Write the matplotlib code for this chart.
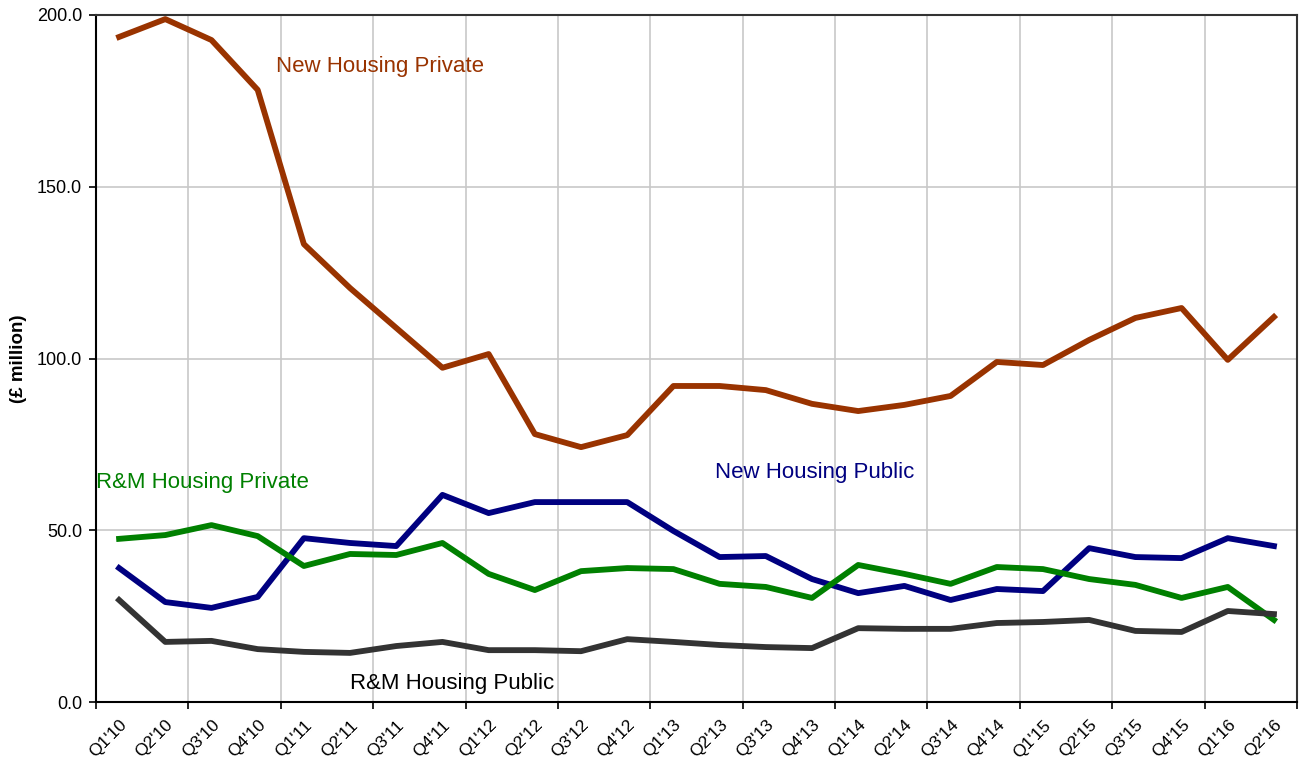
import numpy as np
import matplotlib.pyplot as plt

plt.rcParams['font.family'] = ['Liberation Sans', 'DejaVu Sans']

quarters = ["Q1'10", "Q2'10", "Q3'10", "Q4'10", "Q1'11", "Q2'11", "Q3'11", "Q4'11",
            "Q1'12", "Q2'12", "Q3'12", "Q4'12", "Q1'13", "Q2'13", "Q3'13", "Q4'13",
            "Q1'14", "Q2'14", "Q3'14", "Q4'14", "Q1'15", "Q2'15", "Q3'15", "Q4'15",
            "Q1'16", "Q2'16"]

new_private = [193.6, 198.8, 192.7, 178.2, 133.3, 120.5, 108.9, 97.3, 101.3, 78.0,
               74.2, 77.7, 92.0, 92.0, 90.8, 86.8, 84.7, 86.5, 89.1, 99.0,
               98.1, 105.4, 111.8, 114.7, 99.6, 112.1]
new_public = [39.0, 29.1, 27.4, 30.6, 47.7, 46.3, 45.4, 60.3, 55.0, 58.2,
              58.2, 58.2, 49.8, 42.2, 42.5, 35.8, 31.7, 33.8, 29.7, 32.9,
              32.3, 44.8, 42.2, 41.9, 47.7, 45.4]
rm_private = [47.5, 48.6, 51.5, 48.3, 39.6, 43.1, 42.8, 46.3, 37.3, 32.6,
              38.1, 39.0, 38.7, 34.4, 33.5, 30.3, 39.9, 37.3, 34.4, 39.3,
              38.7, 35.8, 34.1, 30.3, 33.5, 23.9]
rm_public = [29.7, 17.5, 17.8, 15.4, 14.6, 14.3, 16.3, 17.5, 15.1, 15.1,
             14.8, 18.3, 17.5, 16.6, 16.0, 15.7, 21.5, 21.3, 21.3, 23.0,
             23.3, 23.9, 20.7, 20.4, 26.5, 25.6]

x = np.arange(len(quarters))

fig = plt.figure(figsize=(12.99, 7.68), dpi=100)
ax = fig.add_axes([0.0739, 0.0859, 0.9246, 0.8946])

lw = 4.2
ax.plot(x, new_private, color='#993300', lw=lw, zorder=3)
ax.plot(x, new_public, color='#000080', lw=lw, zorder=3)
ax.plot(x, rm_private, color='#008000', lw=lw, zorder=3)
ax.plot(x, rm_public, color='#333333', lw=lw, zorder=3)

ax.text(3.4, 185, 'New Housing Private', color='#993300', fontsize=16, va='center')
ax.text(-0.5, 63.8, 'R&M Housing Private', color='#008000', fontsize=16, va='center')
ax.text(12.9, 66.7, 'New Housing Public', color='#000080', fontsize=16, va='center')
ax.text(5.0, 5.5, 'R&M Housing Public', color='black', fontsize=16, va='center')

ax.set_xlim(-0.5, len(quarters) - 0.5)
ax.set_ylim(0, 200)
ax.set_yticks([0, 50, 100, 150, 200])
ax.set_yticklabels(['%.1f' % v for v in [0, 50, 100, 150, 200]], fontsize=13)

ax.set_xticks(np.arange(-0.5, len(quarters), 2))
ax.set_xticklabels([])
ax.set_xticks(x, minor=True)
ax.set_xticklabels(quarters, minor=True, rotation=45, ha='right', rotation_mode='anchor', fontsize=12.5)
ax.tick_params(axis='x', which='minor', length=0, pad=11)
ax.tick_params(axis='x', which='major', length=5, width=1.2, direction='out')
ax.tick_params(axis='y', length=5, width=1.2, direction='out', pad=5)

ax.grid(True, which='major', color='#c8c8c8', lw=1.2)
ax.set_axisbelow(True)
for s in ax.spines.values():
    s.set_linewidth(1.5)
    s.set_color('black')
ax.spines['top'].set_color('#333333')
ax.spines['right'].set_color('#333333')

ax.set_ylabel('(£ million)', fontsize=13.5, fontweight='bold', labelpad=7)

fig.savefig('out.png', dpi=100)
